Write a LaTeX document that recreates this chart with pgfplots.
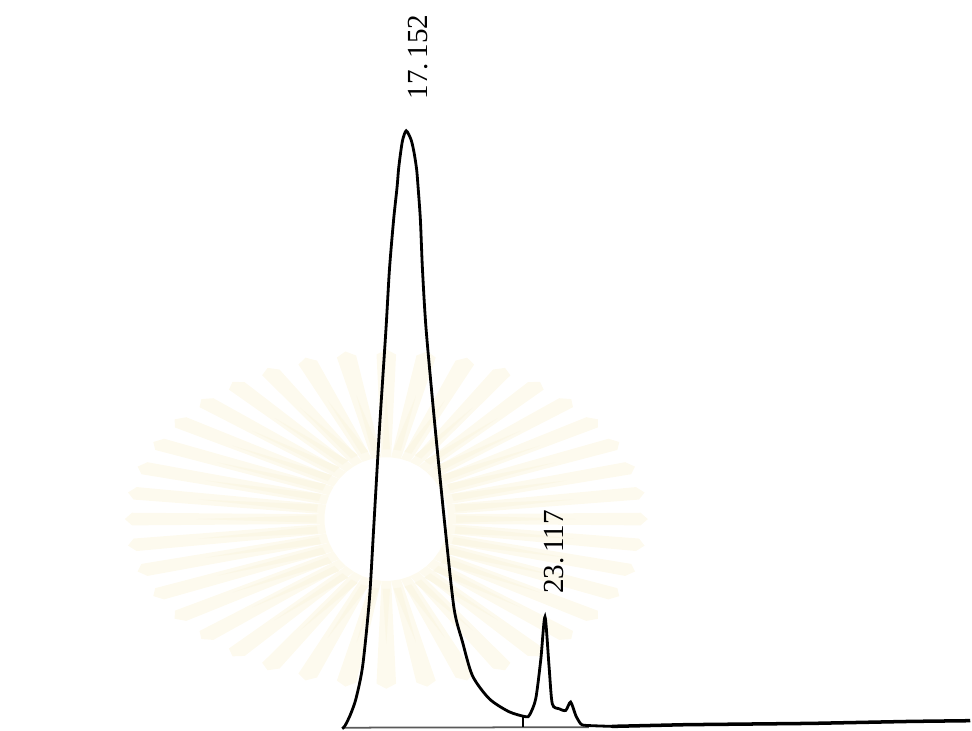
\documentclass[border=0pt]{standalone}
\usepackage{pgfplots}
\pgfplotsset{compat=1.18}
\usepackage{fontspec}
\setmainfont{Liberation Serif}

% pale emblem behind the trace
\definecolor{emblem}{RGB}{253,250,238}
\definecolor{emblemcore}{RGB}{251,247,230}

\begin{document}
\begin{tikzpicture}
\begin{scope}
  \clip (0,0) rectangle (9.72,7.31);
  \foreach \a in {0,9,...,359} {
    \fill[emblem] ({3.87+0.62*cos(\a-4.5)},{2.11+0.62*sin(\a-4.5)})
      -- ({3.87+2.55*cos(\a-2.2)},{2.11+1.65*sin(\a-2.2)})
      -- ({3.87+2.62*cos(\a)},{2.11+1.70*sin(\a)})
      -- ({3.87+2.55*cos(\a+2.2)},{2.11+1.65*sin(\a+2.2)})
      -- ({3.87+0.62*cos(\a+4.5)},{2.11+0.62*sin(\a+4.5)}) -- cycle;
    \fill[emblemcore] ({3.87+0.7*cos(\a-3)},{2.11+0.7*sin(\a-3)})
      -- ({3.87+1.9*cos(\a)},{2.11+1.25*sin(\a)})
      -- ({3.87+0.7*cos(\a+3)},{2.11+0.7*sin(\a+3)}) -- cycle;
  }
\end{scope}
\begin{axis}[
  at={(0,0)}, anchor=south west,
  scale only axis, width=9.72cm, height=7.31cm,
  xmin=-0.313, xmax=41.40, ymin=0, ymax=731,
  axis lines=none, ticks=none, clip=false,
]
% baseline under the peaks
\addplot[black!65, line width=0.5pt] coordinates {(14.40,2) (25.0,2.5)};
% detector trace (retention time in min, signal)
\addplot[black, line width=0.8pt, smooth, tension=0.45] coordinates {
  (14.40,1) (14.52,4) (14.75,15) (14.99,31) (15.28,64) (15.57,131)
  (15.75,201) (16.00,301) (16.28,401) (16.43,461) (16.61,511)
  (16.76,544) (16.82,561) (16.91,578) (17.00,591) (17.152,600)
  (17.36,591) (17.49,578) (17.60,561) (17.66,544) (17.76,511)
  (17.85,461) (18.01,400) (18.40,301) (18.83,201) (19.21,121)
  (19.57,88) (20.00,54) (20.72,31) (21.57,18) (22.29,13)
  (22.46,15) (22.72,31) (22.94,71) (23.117,113) (23.29,64)
  (23.43,26) (23.72,21) (24.01,19.3) (24.22,27.7) (24.44,14.3)
  (24.65,6) (24.87,4.3) (26.0,3.3)
};
\addplot[black, line width=1.0pt] coordinates {
  (26.0,3.3) (29.17,5) (34.58,6.3) (38.87,8.3) (41.40,9)
};
% integration drop line
\addplot[black, line width=0.6pt] coordinates {(22.18,2.5) (22.18,13)};
% retention time labels
\node[rotate=90, font=\fontsize{8.3}{9}\selectfont] at (axis cs:17.67,674) {17.\,152};
\node[rotate=90, font=\fontsize{8.3}{9}\selectfont] at (axis cs:23.50,178) {23.\,117};
\end{axis}
\end{tikzpicture}
\end{document}
